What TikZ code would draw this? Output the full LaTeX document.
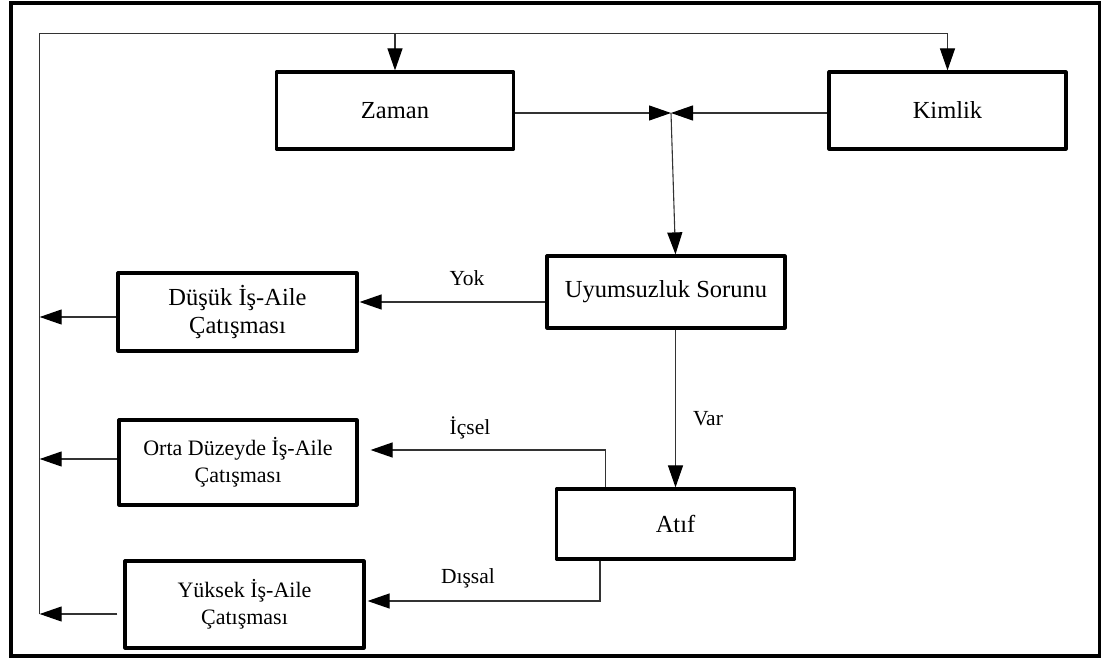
\documentclass[tikz,border=0pt]{standalone}
\usepackage{fontspec}
\setmainfont{Liberation Serif}
\usetikzlibrary{arrows.meta,calc}
\begin{document}
\begin{tikzpicture}[x=1pt,y=-1pt,
  box/.style={draw=black,line width=3.2pt,line join=round,inner sep=0pt,align=center,
    font=\fontsize{24.5}{27.5}\selectfont},
  smallbox/.style={box,font=\fontsize{22}{27}\selectfont},
  conn/.style={draw=black!80,line width=1.1pt},
  arr/.style={-{Triangle[length=22pt,width=15pt,color=black]}},
  lbl/.style={inner sep=0pt,font=\fontsize{21.5}{24}\selectfont}]
\useasboundingbox (0,0) rectangle (1101,658);
% outer frame
\draw[line width=4pt] (10.5,3.5) rectangle (1099.5,656);

% boxes
\node[box,minimum width=237pt,minimum height=77pt] (zaman) at (395,110.5) {Zaman};
\node[box,minimum width=237pt,minimum height=77pt] (kimlik) at (947.5,110.5) {Kimlik};
\node[box,minimum width=238pt,minimum height=72pt] (uyum) at (666,292) {Uyumsuzluk Sorunu};
\node[box,minimum width=239pt,minimum height=78pt] (dusuk) at (237.5,312) {Düşük İş-Aile\\Çatışması};
\node[smallbox,minimum width=238pt,minimum height=85pt] (orta) at (238,462.5) {Orta Düzeyde İş-Aile\\Çatışması};
\node[box,minimum width=238pt,minimum height=70pt] (atif) at (675.5,524) {Atıf};
\node[smallbox,minimum width=239pt,minimum height=87pt] (yuksek) at (244.5,604.5) {Yüksek İş-Aile\\Çatışması};

% helper points
\coordinate (jn) at (671,113);
\coordinate (lt) at (39.7,33.3);
\coordinate (lb) at (39.7,614);

% feedback loop back to the inputs
\draw[conn,arr] (lb) -- (lt) -| (kimlik.north);
\draw[conn,arr] (lt -| zaman.north) -- (zaman.north);

% inputs merging
\draw[conn,arr] (zaman.east |- jn) -- (jn);
\draw[conn,arr] (kimlik.west |- jn) -- (jn);
\draw[conn,arr] (jn) -- (uyum.north -| atif.north);

% decisions
\draw[conn,arr] ([yshift=-10pt]uyum.west) -- ([xshift=1pt,yshift=-10pt]uyum.west -| dusuk.east);
\node[lbl] (yok) at (467,278) {Yok};
\draw[conn,arr] (uyum.south -| atif.north) -- (atif.north);
\node[lbl] (var) at (708,419) {Var};
\draw[conn,arr] ([xshift=-70pt]atif.north) |- ([xshift=12pt,yshift=12.5pt]orta.east);
\node[lbl] (icsel) at (470,428) {İçsel};
\draw[conn,arr] ([xshift=-75.5pt]atif.south) |- ([xshift=2pt,yshift=3.5pt]yuksek.east);
\node[lbl] (dissal) at (468,578) {Dışsal};

% outcomes feeding the loop
\draw[conn,arr] ([yshift=-5pt]dusuk.west) -- ([yshift=-5pt]dusuk.west -| lt);
\draw[conn,arr] ([yshift=3.5pt]orta.west) -- ([yshift=3.5pt]orta.west -| lt);
\draw[conn,arr] ([xshift=-6pt,yshift=-9.5pt]yuksek.west) -- ([yshift=-9.5pt]yuksek.west -| lt);
\end{tikzpicture}
\end{document}
